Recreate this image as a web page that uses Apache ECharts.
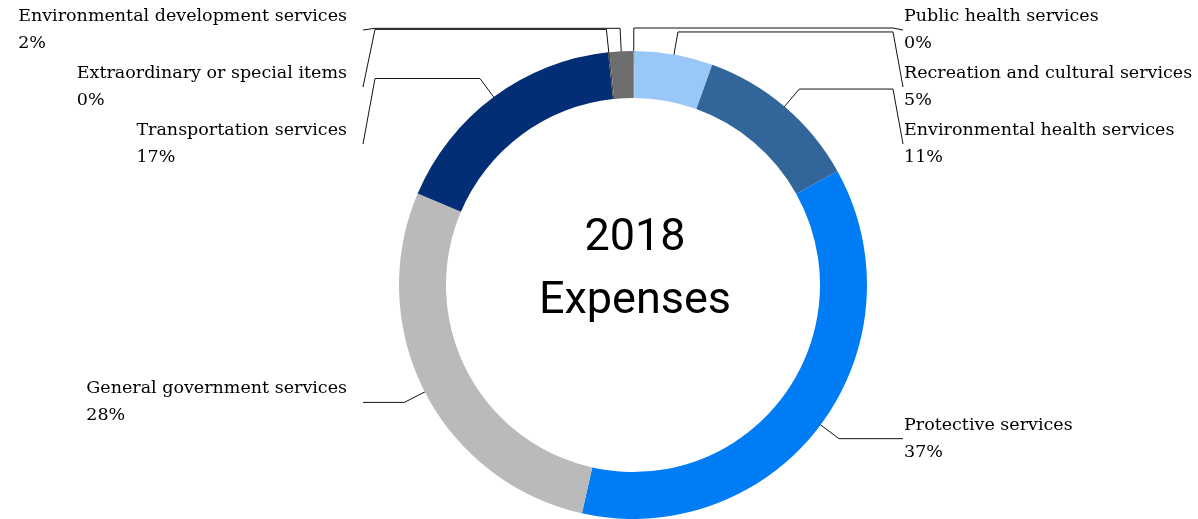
<!DOCTYPE html>
<html>
<head>
<meta charset="utf-8">
<script src="https://cdn.jsdelivr.net/npm/echarts@6/dist/echarts.min.js"></script>
<style>
    html, body { margin: 0; padding: 0; background: #fff; }
    #chart { width: 1198px; height: 519px; }
</style>
</head>
<body>
<div id="chart"></div>
<script>
    // clockwise from 12 o'clock, share of 2018 expenses (%)
    const categories = [
        'Public health services',
        'Recreation and cultural services',
        'Environmental health services',
        'Protective services',
        'General government services',
        'Transportation services',
        'Extraordinary or special items',
        'Environmental development services'
    ];
    const values = [0.1, 5.4, 11.4, 36.6, 27.9, 16.9, 0.1, 1.6];
    const colors = ['#5b9bd5', '#99c7f8', '#32659a', '#007cf5', '#bababa', '#032e75', '#444444', '#6e6e6e'];

    const cx = 633, cy = 285;
    const rIn = 187, rOut = 234;
    const rAnchor = 222, rElbow = 257;
    const rightTextX = 904, leftTextRight = 347;
    const blockGap = 57, topCenter = 30;

    // where each slice's leader line starts and bends
    const total = values.reduce((a, b) => a + b, 0);
    let cum = 0;
    const guides = values.map(v => {
        const a = (cum + v / 2) / total * Math.PI * 2;
        cum += v;
        const ux = Math.sin(a), uy = -Math.cos(a);
        return {
            right: ux >= 0,
            anchor: [cx + ux * rAnchor, cy + uy * rAnchor],
            elbow: [cx + ux * rElbow, cy + uy * rElbow]
        };
    });
    // stack labels per side so they don't overlap
    [true, false].forEach(side => {
        const idx = guides.map((g, i) => i).filter(i => guides[i].right === side)
            .sort((a, b) => guides[a].elbow[1] - guides[b].elbow[1]);
        let prev = -Infinity;
        idx.forEach(i => {
            const c = Math.max(guides[i].elbow[1], prev + blockGap, topCenter);
            guides[i].labelY = c;
            prev = c;
        });
    });

    const chart = echarts.init(document.getElementById('chart'));
    chart.setOption({
        backgroundColor: '#fff',
        animation: false,
        color: colors,
        graphic: [{
            type: 'text',
            x: 635,
            y: 270,
            style: {
                text: '2018\nExpenses',
                font: '45px Roboto',
                lineHeight: 63,
                fill: '#000',
                align: 'center',
                verticalAlign: 'middle'
            }
        }],
        series: [{
            type: 'pie',
            center: [cx, cy],
            radius: [rIn, rOut],
            startAngle: 90,
            clockwise: true,
            avoidLabelOverlap: false,
            minShowLabelAngle: 0,
            itemStyle: { borderWidth: 0 },
            label: {
                show: true,
                position: 'outside',
                fontFamily: 'DejaVu Serif',
                fontSize: 17.5,
                lineHeight: 27,
                color: '#000',
                formatter: p => p.name + '\n' + Math.round(p.percent) + '%'
            },
            labelLine: {
                show: true,
                lineStyle: { color: '#111', width: 1 }
            },
            labelLayout: function (params) {
                const g = guides[params.dataIndex];
                const w = params.labelRect.width;
                const x = g.right ? rightTextX : leftTextRight - w;
                const endX = g.right ? rightTextX - 1 : leftTextRight + 16;
                const bendX = g.right ? endX - 10 : endX + 12;
                return {
                    x: x,
                    y: g.labelY,
                    align: 'left',
                    verticalAlign: 'middle',
                    labelLinePoints: [g.anchor, g.elbow, [bendX, g.elbow[1]], [endX, g.labelY]]
                };
            },
            emphasis: { disabled: true },
            data: categories.map((name, i) => ({ name: name, value: values[i] }))
        }]
    });
</script>
</body>
</html>
